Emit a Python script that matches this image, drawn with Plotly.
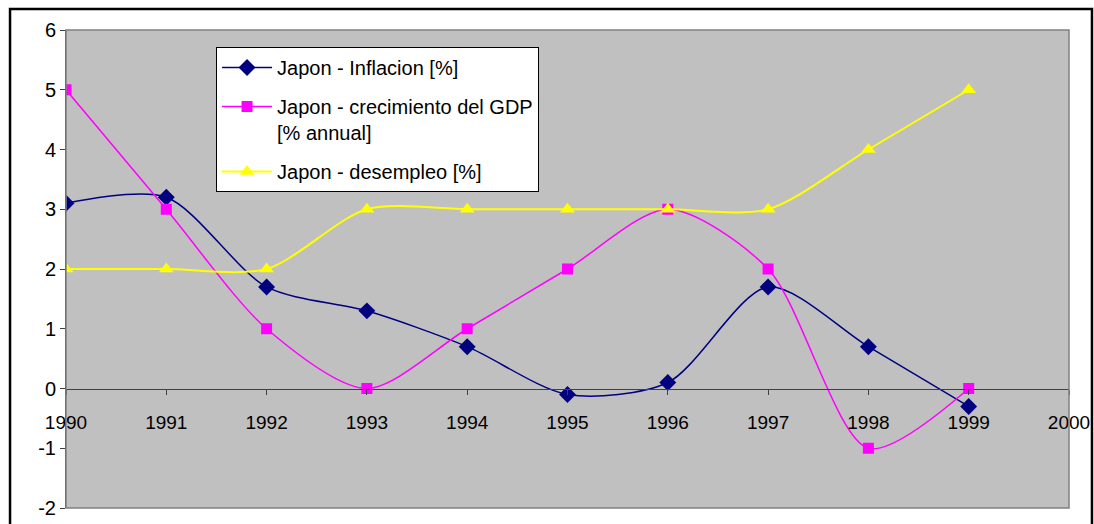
import plotly.graph_objects as go

years = [1990, 1991, 1992, 1993, 1994, 1995, 1996, 1997, 1998, 1999]
inflacion = [3.1, 3.2, 1.7, 1.3, 0.7, -0.1, 0.1, 1.7, 0.7, -0.3]
gdp = [5, 3, 1, 0, 1, 2, 3, 2, -1, 0]
desempleo = [2, 2, 2, 3, 3, 3, 3, 3, 4, 5]

y_ticks = [-2, -1, 0, 1, 2, 3, 4, 5, 6]
y_labels = ['-2', '-1', '0', '1', '2', '3', '4', '5', '6']

names = ["Japon - Inflacion [%]",
         "Japon - crecimiento del GDP<br>[% annual]",
         "Japon - desempleo [%]"]

fig = go.Figure()
fig.add_trace(go.Scatter(x=years, y=inflacion, name=names[0], mode='lines+markers',
                         line=dict(color='#000080', width=1.5, shape='spline', smoothing=0.8),
                         marker=dict(symbol='diamond', size=13, color='#000080'),
                         legendgroup='a'))
fig.add_trace(go.Scatter(x=years, y=gdp, name=names[1], mode='lines+markers',
                         line=dict(color='#FF00FF', width=1.5, shape='spline', smoothing=0.8),
                         marker=dict(symbol='square', size=11, color='#FF00FF'),
                         legendgroup='b'))
fig.add_trace(go.Scatter(x=years, y=desempleo, name=names[2], mode='lines+markers',
                         line=dict(color='#FFFF00', width=2, shape='spline', smoothing=0.8),
                         marker=dict(symbol='triangle-up', size=13, color='#FFFF00'),
                         legendgroup='c'))

font = "Liberation Sans, Arial, sans-serif"

fig.update_layout(
    width=1094, height=524,
    margin=dict(l=66, r=25, t=30, b=16),
    paper_bgcolor='white',
    plot_bgcolor='#C0C0C0',
    font=dict(family=font, size=19, color='black'),
    showlegend=True,
    legend=dict(x=0.1496, y=0.9644, xanchor='left', yanchor='top',
                bgcolor='white', bordercolor='black', borderwidth=1,
                font=dict(size=20), traceorder='grouped', tracegroupgap=10,
                valign='top', itemwidth=50),
    xaxis=dict(range=[1990, 2000], dtick=1, tick0=1990, showgrid=False, zeroline=False,
               anchor='free', position=0.25, showline=True, linecolor='#404040', linewidth=1,
               ticks='outside', ticklen=5, tickcolor='#404040', ticklabelstandoff=12,
               tickfont=dict(size=19), automargin=False),
    yaxis=dict(range=[-2, 6], tickmode='array', tickvals=y_ticks, ticktext=y_labels,
               showgrid=False, zeroline=False,
               showline=True, linecolor='#404040', linewidth=1,
               ticks='outside', ticklen=5, tickcolor='#404040', tickfont=dict(size=20),
               automargin=False),
    shapes=[
        dict(type='rect', xref='x domain', yref='y domain', x0=0, x1=1, y0=0, y1=1,
             line=dict(color='#808080', width=1.5), layer='above'),
        dict(type='rect', xref='paper', yref='paper', x0=-0.0558, x1=1.0229, y0=-0.1, y1=1.0439,
             line=dict(color='black', width=2.5)),
    ],
)

fig.write_html("out.html", config={'displayModeBar': False},
               post_script="document.body.style.margin='0';")
